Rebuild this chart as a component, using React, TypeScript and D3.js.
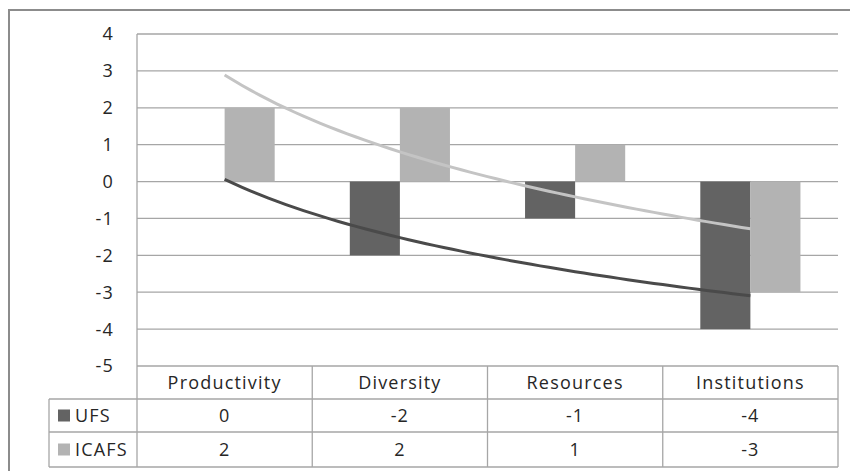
import React from 'react';
import * as d3 from 'd3';

const categories = ['Productivity', 'Diversity', 'Resources', 'Institutions'];
const seriesNames = ['UFS', 'ICAFS'];
const ufsValues = [0, -2, -1, -4];
const icafsValues = [2, 2, 1, -3];
const yTicks = [4, 3, 2, 1, 0, -1, -2, -3, -4, -5];

const colors: Record<string, string> = { UFS: '#636363', ICAFS: '#b3b3b3' };
const trendColors: Record<string, string> = { UFS: '#4a4a4a', ICAFS: '#c4c4c4' };
const FONT = '"Open Sans", Lato, sans-serif';
const FS = 18;
const LS = 1.2;

// Excel-style logarithmic trendline: y = a*ln(x) + b, x = 1..n
function logFit(values: number[]) {
  const xs = values.map((_, i) => Math.log(i + 1));
  const mx = d3.mean(xs)!;
  const my = d3.mean(values)!;
  const sxy = d3.sum(xs, (x, i) => (x - mx) * (values[i] - my));
  const sxx = d3.sum(xs, (x) => (x - mx) ** 2);
  const a = sxy / sxx;
  const b = my - a * mx;
  return (t: number) => a * Math.log(t) + b;
}

const App: React.FC = () => {
  const width = 850;
  const height = 471;
  const plot = { left: 137, right: 838, top: 34, bottom: 366 };
  const rowH = [366, 399, 432, 467];
  const legendLeft = 49;

  const series = [
    { name: 'UFS', values: ufsValues },
    { name: 'ICAFS', values: icafsValues },
  ];

  const x = d3.scaleBand<string>().domain(categories).range([plot.left, plot.right]).padding(0);
  const xInner = d3.scaleBand<string>().domain(seriesNames).range([0, x.bandwidth()]).paddingInner(0).paddingOuter(0.75);
  const y = d3.scaleLinear().domain([-5, 4]).range([plot.bottom, plot.top]);

  const centers = categories.map((c) => x(c)! + x.bandwidth() / 2);
  const tx = d3.scaleLinear().domain([1, categories.length]).range([centers[0], centers[centers.length - 1]]);
  const ts = d3.range(1, categories.length + 0.001, 0.05);

  const line = d3.line<[number, number]>().x((d) => tx(d[0])).y((d) => y(d[1])).curve(d3.curveLinear);

  const gridColor = '#a6a6a6';
  const textProps = { fontFamily: FONT, fontSize: FS, fill: '#262626', letterSpacing: LS } as const;

  return (
    <svg width={width} height={height} style={{ position: 'absolute', left: 0, top: 0, background: '#fff' }}>
      {/* outer frame */}
      <path d={`M9,${height} L9,10 L${width},10`} fill="none" stroke="#8c8c8c" strokeWidth={2} />

      {/* gridlines */}
      {yTicks.map((t) => (
        <line key={t} x1={plot.left} x2={plot.right} y1={y(t)} y2={y(t)} stroke={gridColor} strokeWidth={1.3} />
      ))}
      <line x1={plot.left} x2={plot.left} y1={plot.top} y2={rowH[3]} stroke={gridColor} strokeWidth={1.3} />

      {/* y tick labels */}
      {yTicks.map((t) => (
        <text key={t} x={114} y={y(t)} dy="0.36em" textAnchor="end" {...textProps}>
          {t}
        </text>
      ))}

      {/* bars */}
      {series.map((s) =>
        s.values.map((v, i) => (
          <rect
            key={s.name + i}
            x={x(categories[i])! + xInner(s.name)!}
            width={xInner.bandwidth()}
            y={y(Math.max(0, v))}
            height={Math.abs(y(v) - y(0))}
            fill={colors[s.name]}
          />
        ))
      )}

      {/* log trendlines */}
      {series.map((s) => {
        const f = logFit(s.values);
        const pts = ts.map((t) => [t, f(t)] as [number, number]);
        return <path key={s.name} d={line(pts)!} fill="none" stroke={trendColors[s.name]} strokeWidth={3} />;
      })}

      {/* data table */}
      {rowH.slice(1).map((yy) => (
        <line key={yy} x1={legendLeft} x2={plot.right} y1={yy} y2={yy} stroke={gridColor} strokeWidth={1.3} />
      ))}
      <line x1={legendLeft} x2={legendLeft} y1={rowH[1]} y2={rowH[3]} stroke={gridColor} strokeWidth={1.3} />
      {categories.map((c) => (
        <line key={c} x1={x(c)! + x.bandwidth()} x2={x(c)! + x.bandwidth()} y1={rowH[0]} y2={rowH[3]} stroke={gridColor} strokeWidth={1.3} />
      ))}
      {categories.map((c, i) => (
        <text key={c} x={centers[i]} y={(rowH[0] + rowH[1]) / 2} dy="0.36em" textAnchor="middle" {...textProps}>
          {c}
        </text>
      ))}
      {series.map((s, r) => {
        const cy = (rowH[r + 1] + rowH[r + 2]) / 2;
        return (
          <g key={s.name}>
            <rect x={58} y={cy - 6} width={12} height={12} fill={colors[s.name]} />
            <text x={75} y={cy} dy="0.36em" {...textProps}>
              {s.name}
            </text>
            {s.values.map((v, i) => (
              <text key={i} x={centers[i]} y={cy} dy="0.36em" textAnchor="middle" {...textProps}>
                {v}
              </text>
            ))}
          </g>
        );
      })}
    </svg>
  );
};

export default App;
